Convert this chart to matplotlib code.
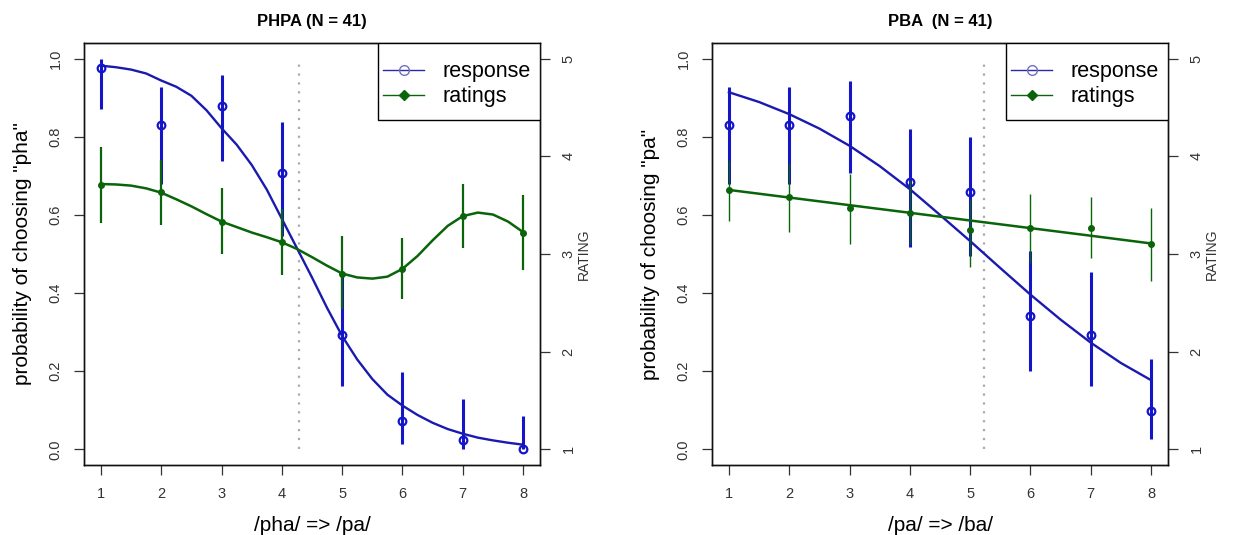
import matplotlib
matplotlib.use('Agg')
import matplotlib.pyplot as plt
from matplotlib.lines import Line2D
from matplotlib.patches import Rectangle

plt.rcParams['font.family'] = ['Liberation Sans', 'DejaVu Sans']

# ---------------- data ----------------
steps = [1, 2, 3, 4, 5, 6, 7, 8]

# PHPA panel
phpa_title = 'PHPA (N = 41)'
phpa_xlabel = '/pha/ => /pa/'
phpa_ylabel = 'probability of choosing "pha"'
phpa_resp = [0.976, 0.829, 0.878, 0.707, 0.293, 0.073, 0.024, 0.0]
phpa_resp_lo = [0.871, 0.679, 0.738, 0.545, 0.161, 0.015, 0.001, 0.0]
phpa_resp_hi = [0.999, 0.928, 0.959, 0.839, 0.455, 0.199, 0.129, 0.086]
phpa_rate = [3.71, 3.63, 3.33, 3.12, 2.80, 2.85, 3.39, 3.22]
phpa_rate_lo = [3.32, 3.30, 3.00, 2.78, 2.44, 2.54, 3.06, 2.84]
phpa_rate_hi = [4.10, 3.96, 3.68, 3.46, 3.18, 3.16, 3.72, 3.60]
phpa_fit_x = [1, 1.25, 1.5, 1.75, 2, 2.25, 2.5, 2.75, 3, 3.25, 3.5, 3.75, 4, 4.25,
              4.5, 4.75, 5, 5.25, 5.5, 5.75, 6, 6.25, 6.5, 6.75, 7, 7.25, 7.5, 7.75, 8]
phpa_resp_fit = [0.982, 0.978, 0.972, 0.962, 0.944, 0.928, 0.905, 0.868, 0.822, 0.78,
                 0.728, 0.665, 0.59, 0.515, 0.44, 0.362, 0.29, 0.23, 0.18, 0.14,
                 0.112, 0.088, 0.068, 0.052, 0.04, 0.03, 0.023, 0.017, 0.012]
phpa_rate_fit = [3.716, 3.712, 3.70, 3.672, 3.628, 3.56, 3.488, 3.408, 3.332, 3.276,
                 3.22, 3.172, 3.12, 3.052, 2.968, 2.88, 2.80, 2.76, 2.748, 2.768,
                 2.848, 2.98, 3.14, 3.288, 3.388, 3.424, 3.404, 3.332, 3.224]
phpa_boundary = 4.29

# PBA panel
pba_title = 'PBA  (N = 41)'
pba_xlabel = '/pa/ => /ba/'
pba_ylabel = 'probability of choosing "pa"'
pba_resp = [0.829, 0.829, 0.854, 0.683, 0.659, 0.341, 0.293, 0.098]
pba_resp_lo = [0.679, 0.679, 0.708, 0.519, 0.494, 0.201, 0.161, 0.027]
pba_resp_hi = [0.928, 0.928, 0.944, 0.819, 0.799, 0.507, 0.455, 0.231]
pba_rate = [3.656, 3.58, 3.468, 3.416, 3.248, 3.268, 3.268, 3.10]
pba_rate_lo = [3.34, 3.228, 3.10, 3.10, 2.868, 2.908, 2.956, 2.728]
pba_rate_hi = [3.964, 3.936, 3.82, 3.76, 3.56, 3.612, 3.58, 3.468]
pba_fit_x = [1, 1.5, 2, 2.5, 3, 3.5, 4, 4.5, 5, 5.5, 6, 6.5, 7, 7.5, 8]
pba_resp_fit = [0.914, 0.889, 0.858, 0.821, 0.777, 0.725, 0.666, 0.60, 0.533,
                0.464, 0.396, 0.332, 0.273, 0.221, 0.177]
pba_rate_fit_x = [1, 2, 3, 4, 5, 6, 7, 8]
pba_rate_fit = [3.656, 3.578, 3.50, 3.422, 3.343, 3.265, 3.187, 3.108]
pba_boundary = 5.23

left_ticks = [0.0, 0.2, 0.4, 0.6, 0.8, 1.0]
right_ticks = [1, 2, 3, 4, 5]
legend_labels = ['response', 'ratings']

BLUE = '#1414c8'
BLUE_LINE = '#1a1ab0'
GREEN = '#0a640a'
TICKCOL = '#333333'

W, H = 1233, 535
fig = plt.figure(figsize=(W / 100, H / 100), dpi=100)


def panel(rect, title, xlabel, ylabel, resp, rlo, rhi, rate, tlo, thi,
          fit_x, resp_fit, rate_fit_x, rate_fit, boundary, green_bar_lw):
    ax = fig.add_axes(rect)
    ax2 = ax.twinx()
    ax.set_xlim(0.72, 8.28)
    ax.set_ylim(-0.04, 1.04)
    ax2.set_ylim(0.84, 5.16)

    # boundary
    ax.plot([boundary, boundary], [0, 1], ls=(0, (1, 3)), color='#aaaaaa', lw=1.6, zorder=1)
    # response
    ax.vlines(steps, rlo, rhi, color=BLUE, lw=2.2, zorder=2)
    ax.plot(fit_x, resp_fit, color=BLUE_LINE, lw=1.7, zorder=3)
    ax.plot(steps, resp, ls='none', marker='o', mfc='none', mec=BLUE, mew=1.6, ms=5.5, zorder=4)
    # ratings
    ax2.vlines(steps, tlo, thi, color=GREEN, lw=green_bar_lw, zorder=2)
    ax2.plot(rate_fit_x, rate_fit, color=GREEN, lw=1.8, zorder=3)
    ax2.plot(steps, rate, ls='none', marker='o', color=GREEN, ms=4, zorder=4)

    ax.set_xticks(steps)
    ax.set_xticklabels([str(s) for s in steps])
    ax.set_yticks(left_ticks)
    ax.set_yticklabels(['%.1f' % t for t in left_ticks], rotation=90, va='center')
    ax2.set_yticks(right_ticks)
    ax2.set_yticklabels([str(t) for t in right_ticks], rotation=90, va='center')
    for a in (ax, ax2):
        a.tick_params(direction='out', length=7, width=0.9, color='#333333',
                      labelsize=10.5, labelcolor=TICKCOL, pad=8.5)
        for s in a.spines.values():
            s.set_linewidth(1.0)
            s.set_color('#111111')

    ax.set_title(title, fontsize=12, fontweight='bold', pad=12)
    ax.set_xlabel(xlabel, fontsize=15)
    ax.xaxis.set_label_coords(0.5, -0.12)
    ax.set_ylabel(ylabel, fontsize=15)
    ax.yaxis.set_label_coords(-0.115, 0.5)
    ax2.set_ylabel('RATING', fontsize=10, color='#333333')
    ax2.yaxis.set_label_coords(1.081, 0.5)

    # legend box
    box = Rectangle((0.645, 0.8175), 0.355, 0.1825, transform=ax2.transAxes,
                    facecolor='white', edgecolor='black', lw=1.0, zorder=6)
    ax2.add_patch(box)
    handles = [Line2D([], [], color='#2a2aa8', lw=1.0, marker='o', mfc='none',
                      mec='#7070c0', mew=1.0, ms=7),
               Line2D([], [], color=GREEN, lw=1.0, marker='D', ms=5, mec=GREEN, mfc=GREEN)]
    leg = ax2.legend(handles, legend_labels, loc='upper left',
                     bbox_to_anchor=(0.656, 0.957), fontsize=15.5,
                     frameon=False, borderaxespad=0, borderpad=0,
                     handlelength=1.9, handletextpad=0.85, labelspacing=0.2)
    leg.set_zorder(7)
    return ax, ax2


panel([84 / W, (H - 465) / H, 456 / W, 422 / H], phpa_title, phpa_xlabel, phpa_ylabel,
      phpa_resp, phpa_resp_lo, phpa_resp_hi, phpa_rate, phpa_rate_lo, phpa_rate_hi,
      phpa_fit_x, phpa_resp_fit, phpa_fit_x, phpa_rate_fit, phpa_boundary, 1.6)

panel([712 / W, (H - 465) / H, 456 / W, 422 / H], pba_title, pba_xlabel, pba_ylabel,
      pba_resp, pba_resp_lo, pba_resp_hi, pba_rate, pba_rate_lo, pba_rate_hi,
      pba_fit_x, pba_resp_fit, pba_rate_fit_x, pba_rate_fit, pba_boundary, 1.0)

fig.savefig('out.png', dpi=100, facecolor='white')
